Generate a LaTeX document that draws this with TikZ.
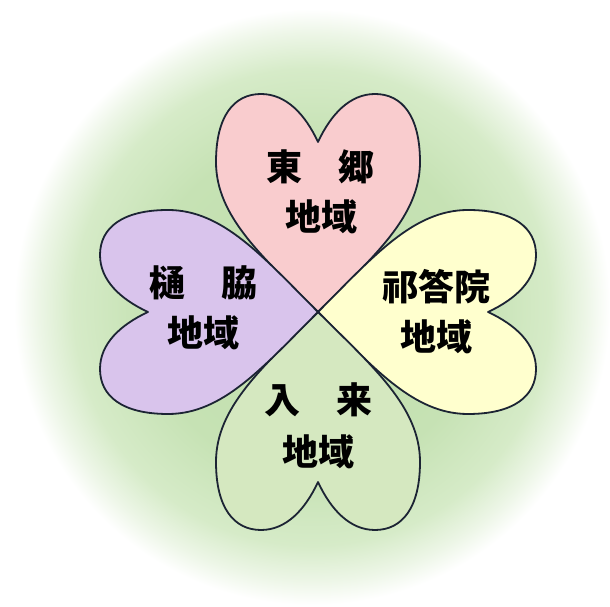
\documentclass[tikz,border=0pt]{standalone}
\usepackage{fontspec}
\newfontfamily\cjk{Noto Sans CJK JP}
\definecolor{bgA}{RGB}{192,222,172}
\definecolor{bgB}{RGB}{198,226,180}
\definecolor{bgC}{RGB}{214,235,200}
\definecolor{bgD}{RGB}{237,246,231}
\definecolor{pinkF}{RGB}{249,204,206}
\definecolor{yelF}{RGB}{255,255,206}
\definecolor{greenF}{RGB}{213,232,192}
\definecolor{purpF}{RGB}{217,196,236}
\definecolor{outl}{RGB}{28,36,52}
\pgfdeclareradialshading{bgshade}{\pgfpoint{0bp}{0bp}}{color(0bp)=(bgA); color(14bp)=(bgB); color(20bp)=(bgC); color(23bp)=(bgD); color(25bp)=(white); color(50bp)=(white)}
\begin{document}
\begin{tikzpicture}[x=1pt,y=1pt,
  heartline/.style={draw=outl,line width=1.8pt,line join=round},
  lbl/.style={font=\cjk\bfseries\fontsize{36}{36}\selectfont,inner sep=0pt,text=black},
  pics/heart/.style={code={
    \path[heartline,fill=#1] (0,0) .. controls (55,55) and (102,95) .. (102,150)
      .. controls (102,196) and (84,218) .. (57,218)
      .. controls (32,218) and (13,198) .. (0,170)
      .. controls (-13,198) and (-32,218) .. (-57,218)
      .. controls (-84,218) and (-102,196) .. (-102,150)
      .. controls (-102,95) and (-55,55) .. (0,0) -- cycle;
  }}]
\useasboundingbox (0,0) rectangle (610,607);
\fill[white] (0,0) rectangle (610,607);
\coordinate (bgc) at (312,300);
\coordinate (ctr) at (318,295);
\shade[shading=bgshade] (bgc) circle (298);
\pic at (ctr) {heart=pinkF};
\pic[rotate=-90] at (ctr) {heart=yelF};
\pic[rotate=180] at (ctr) {heart=greenF};
\pic[rotate=90] at (ctr) {heart=purpF};
\node[lbl] (t1) at (320,440) {東　郷};
\node[lbl] (t2) at (321,390) {地域};
\node[lbl] (r1) at (436,320) {祁答院};
\node[lbl] (r2) at (436,270) {地域};
\node[lbl] (l1) at (203,324) {樋　脇};
\node[lbl] (l2) at (203,274) {地域};
\node[lbl] (b1) at (318,207) {入　来};
\node[lbl] (b2) at (318,155) {地域};
\end{tikzpicture}
\end{document}
